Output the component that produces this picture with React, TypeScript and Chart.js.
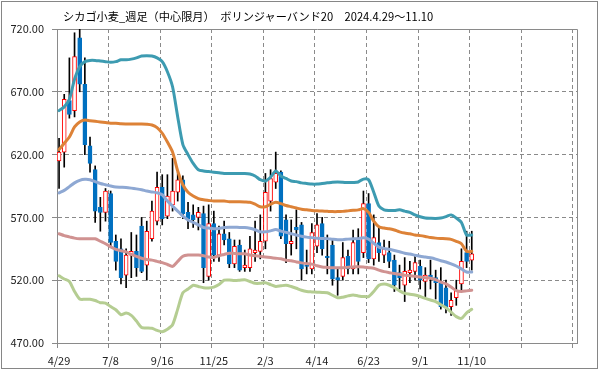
import { useEffect, useRef } from 'react';
import { Chart, registerables } from 'chart.js';

Chart.register(...registerables);

const tickLabels = ['4/29', '7/8', '9/16', '11/25', '2/3', '4/14', '6/23', '9/1', '11/10', '', ''];

const opens = [
  615, 622, 663, 655, 713, 676, 627, 608, 578, 574,
  589, 551, 545, 524, 540, 543, 563, 532, 553, 567,
  594, 571, 580, 590, 600, 574, 572, 570, 573, 523,
  565, 540, 557, 553, 533, 548, 530, 530, 542, 543,
  551, 583, 598, 606, 568, 549, 562, 564, 532, 529,
  547, 565, 539, 548, 522, 523, 539, 529, 552, 542,
  581, 537, 550, 540, 542, 536, 526, 516, 526, 527,
  531, 519, 524, 522, 519, 514, 499, 506, 517, 542,
  536,
];
const highs = [
  633, 668, 697, 717, 721, 697, 634, 611, 586, 593,
  591, 556, 553, 545, 558, 556, 570, 567, 583, 606,
  604, 604, 617, 606, 603, 582, 580, 578, 579, 580,
  575, 563, 567, 558, 552, 552, 544, 555, 567, 572,
  605, 608, 622, 607, 572, 568, 576, 566, 544, 565,
  573, 570, 556, 552, 529, 550, 544, 560, 561, 591,
  589, 572, 562, 552, 551, 540, 532, 538, 535, 540,
  536, 530, 536, 528, 530, 520, 510, 520, 545, 559,
  559,
];
const lows = [
  593, 610, 649, 650, 670, 620, 606, 566, 559, 567,
  546, 528, 517, 514, 522, 523, 526, 520, 551, 564,
  564, 569, 575, 583, 569, 561, 562, 560, 518, 520,
  535, 535, 548, 530, 530, 527, 527, 527, 535, 537,
  545, 575, 593, 553, 534, 540, 545, 520, 525, 525,
  542, 540, 525, 516, 508, 520, 525, 525, 525, 538,
  534, 532, 535, 534, 530, 511, 513, 503, 518, 520,
  513, 507, 513, 505, 497, 494, 492, 500, 512, 530,
  528,
];
const closes = [
  622, 664, 652, 698, 676, 628, 613, 575, 574, 591,
  550, 535, 522, 540, 543, 530, 527, 559, 575, 594,
  569, 587, 591, 600, 573, 569, 568, 574, 530, 565,
  540, 557, 552, 533, 547, 528, 532, 545, 544, 551,
  590, 601, 605, 555, 549, 551, 560, 529, 531, 558,
  564, 545, 538, 521, 520, 538, 529, 550, 535, 581,
  537, 554, 542, 545, 535, 516, 522, 527, 528, 534,
  520, 524, 522, 518, 499, 498, 504, 512, 535, 535,
  541,
];

const upper2 = [
  655, 658, 664, 680, 690, 694, 695, 695, 694.5, 694,
  693.5, 694, 695.5, 695.5, 696, 697, 698.5, 698.7, 698.5, 697,
  694, 686, 674, 650, 628, 620, 613, 608, 607, 606.5,
  606, 605.5, 605, 605, 605, 605, 605, 604.5, 603, 600,
  599, 602, 607, 603, 601, 599, 598.5, 597.5, 597, 596.5,
  596.5, 597, 597.5, 598, 598.2, 598, 597.7, 597.8, 598.2, 600.5,
  600, 590, 579, 576, 575.5, 575.5, 576, 575, 574, 572,
  570.5, 569.5, 569.3, 569.2, 569.5, 570.6, 572, 569.5, 566, 556,
  556,
];
const upper1 = [
  624, 629, 634, 642, 646, 647.5, 647, 646.5, 646, 645.5,
  645, 645, 644.5, 644.4, 644.4, 644.4, 644.4, 644.2, 643.6, 641.5,
  637, 630, 622, 607, 596, 590, 587, 585, 584, 583.5,
  583, 583, 583, 582.5, 582.5, 582.5, 582.3, 582, 580.5, 578.5,
  578.5, 580.5, 582, 581, 579.5, 578.5, 577.5, 576.5, 576, 575.5,
  575.2, 575, 574.8, 574.6, 574.6, 574.8, 575.2, 575.6, 576, 577,
  574, 567, 562.5, 561.5, 561, 560, 558.5, 557.5, 557, 556,
  555.5, 554.8, 554, 553.5, 553.2, 553, 552.5, 551, 549, 543,
  543,
];
const middle = [
  589.5, 591.5, 594.5, 597.5, 599.5, 600.3, 600, 598.5, 597, 596,
  595, 594.2, 594, 593.8, 593.3, 592.7, 592, 591, 590.3, 589.6,
  588, 583, 579, 575, 571, 568, 566, 564, 562, 561.5,
  561, 561.2, 562, 562.2, 562.2, 562, 562, 561.4, 560.2, 558.6,
  558.5, 559.3, 560.4, 559.1, 558.1, 557, 556, 555, 554.3, 553.9,
  553.4, 553.2, 553.1, 552.6, 552.2, 552.3, 552.7, 553, 553.1, 553.7,
  552.7, 549.4, 546.4, 545.3, 544.6, 543.7, 542.7, 541.5, 540.8, 539.9,
  539, 538.5, 537.8, 536.8, 535.5, 534.5, 533, 531.3, 529, 526.5,
  526.5,
];
const lower1 = [
  557, 555.5, 554.5, 553.5, 553, 553, 553, 553, 551, 549,
  546.5, 544.5, 543.5, 542.5, 540.5, 539, 537.5, 536.5, 536, 535,
  534, 532.5, 531, 535, 539, 540, 540, 540, 539.5, 538.5,
  538, 539.5, 540.5, 541.5, 541.3, 541, 541, 540, 539.5, 539,
  538.5, 538, 537.5, 537, 536, 535.5, 534.5, 533.8, 533.2, 532.8,
  531.5, 530.5, 530.2, 530, 530, 530, 530.3, 530.6, 530.8, 530.5,
  530, 529.5, 528, 526.8, 526, 525.3, 524.7, 524, 523.5, 523.2,
  522.5, 522, 521.6, 520.5, 518.5, 517, 514.5, 511.7, 511, 511.5,
  512,
];
const lower2 = [
  523.5, 521, 519, 511, 505, 504.8, 504.8, 503.8, 502.1, 501.8,
  499, 496.5, 492.5, 493.8, 492, 487.5, 482.3, 482, 481.7, 480,
  479, 481, 484.5, 497, 510, 513, 516, 515, 514, 513.8,
  514.5, 516.5, 520, 520.2, 519.8, 520, 520.3, 519, 517.5, 517.5,
  518, 516.5, 515, 515.5, 516, 515, 513.6, 512, 511, 510.7,
  510.5, 510.2, 510, 508, 506, 506.5, 507.5, 508.2, 507.5, 507,
  507, 511, 516, 517, 516, 514, 511.5, 509.5, 508.8, 508.2,
  507, 505.5, 504.2, 503, 500.5, 498, 494.5, 491, 489.6, 494,
  496.8,
];

const FONT = '"Noto Sans CJK JP", "Noto Sans", sans-serif';
const GRID = '#8a8a8a';

export default function App() {
  const ref = useRef<HTMLCanvasElement>(null);

  useEffect(() => {
    const xs = opens.map((_, i) => i + 0.4);
    const up = opens.map((o, i) => closes[i] >= o);
    const bodies = xs.map((x, i) => ({ x, y: [opens[i], closes[i]] }));
    const wicks = xs.map((x, i) => ({ x, y: [lows[i], highs[i]] }));
    const line = (arr: number[]) => xs.map((x, i) => ({ x, y: arr[i] }));

    const frame = {
      id: 'frame',
      beforeDatasetsDraw(chart: any) {
        const { ctx, chartArea: a } = chart;
        const top = Math.round(a.top - 0.5) + 0.5;
        const right = Math.round(a.right - 0.5) + 0.5;
        const bottom = Math.round(a.bottom - 0.5) + 0.5;
        ctx.save();
        ctx.strokeStyle = GRID;
        ctx.lineWidth = 1;
        ctx.setLineDash([]);
        ctx.beginPath();
        ctx.moveTo(Math.round(a.left - 0.5) + 0.5, top);
        ctx.lineTo(right, top);
        ctx.lineTo(right, bottom);
        ctx.stroke();
        ctx.restore();
      },
    };

    const lineDs = (data: number[], color: string) => ({
      type: 'line' as const,
      data: line(data),
      borderColor: color,
      borderWidth: 3,
      pointRadius: 0,
      tension: 0.25,
      borderJoinStyle: 'round' as const,
      borderCapStyle: 'round' as const,
      order: 0,
    });

    const chart = new Chart(ref.current!, {
      type: 'bar',
      data: {
        datasets: [
          lineDs(upper2, '#3d9bb1'),
          lineDs(upper1, '#dd8237'),
          lineDs(middle, '#8ea8d3'),
          lineDs(lower1, '#d09291'),
          lineDs(lower2, '#b5cd92'),
          {
            type: 'bar',
            data: bodies as any,
            backgroundColor: (c: any) => (up[c.dataIndex] ? '#ffffff' : '#0070c0'),
            borderColor: (c: any) => (up[c.dataIndex] ? '#ff0000' : '#0070c0'),
            borderWidth: 1,
            borderSkipped: false,
            barThickness: 4,
            grouped: false,
            order: 1,
          } as any,
          {
            type: 'bar',
            data: wicks as any,
            backgroundColor: '#000000',
            borderWidth: 0,
            barThickness: 1,
            grouped: false,
            order: 2,
          } as any,
        ],
      },
      options: {
        responsive: false,
        animation: false,
        layout: { padding: { top: 29, right: 22, left: 0, bottom: 0 } },
        plugins: { legend: { display: false }, tooltip: { enabled: false }, title: { display: false } },
        scales: {
          x: {
            type: 'linear',
            min: 0,
            max: 100.8,
            offset: false,
            afterBuildTicks: (s: any) => {
              s.ticks = tickLabels.map((_, i) => ({ value: i * 10 }));
            },
            afterFit: (s: any) => {
              s.height = 27;
            },
            grid: {
              offset: false,
              color: (c: any) => (c.tick && c.tick.value === 0 ? 'rgba(0,0,0,0)' : GRID),
              tickColor: GRID,
              tickLength: 5,
              lineWidth: 1,
            },
            border: { display: true, color: GRID, width: 1, dash: [4, 3] },
            ticks: {
              autoSkip: false,
              maxRotation: 0,
              padding: 6,
              labelOffset: 2,
              color: '#222',
              font: { family: FONT, size: 11 },
              callback: (v: any) => tickLabels[Math.round(Number(v) / 10)] ?? '',
            },
          },
          y: {
            type: 'linear',
            min: 470,
            max: 720,
            afterFit: (s: any) => {
              s.width = 57;
            },
            grid: {
              color: (c: any) =>
                c.tick && (c.tick.value === 720 || c.tick.value === 470) ? 'rgba(0,0,0,0)' : GRID,
              tickColor: GRID,
              tickLength: 5,
              lineWidth: 1,
            },
            border: { display: true, color: GRID, width: 1, dash: [4, 3] },
            ticks: {
              stepSize: 50,
              padding: 8,
              color: '#222',
              font: { family: FONT, size: 11 },
              callback: (v: any) => Number(v).toFixed(2),
            },
          },
        },
      },
      plugins: [frame],
    });

    return () => chart.destroy();
  }, []);

  return (
    <div style={{ position: 'fixed', left: 0, top: 0, width: 599, height: 370, background: '#fff' }}>
      <canvas ref={ref} width={599} height={370} style={{ position: 'absolute', left: 0, top: 0 }} />
      <div
        style={{
          position: 'absolute',
          left: 1,
          top: 1,
          width: 595,
          height: 366,
          border: '1px solid #868686',
          pointerEvents: 'none',
        }}
      />
      <div
        style={{
          position: 'absolute',
          left: 63,
          top: 9,
          fontFamily: FONT,
          fontSize: 11.2,
          lineHeight: '14px',
          color: '#000',
          whiteSpace: 'nowrap',
        }}
      >
        シカゴ小麦_週足（中心限月）　ボリンジャーバンド20　2024.4.29～11.10
      </div>
    </div>
  );
}
